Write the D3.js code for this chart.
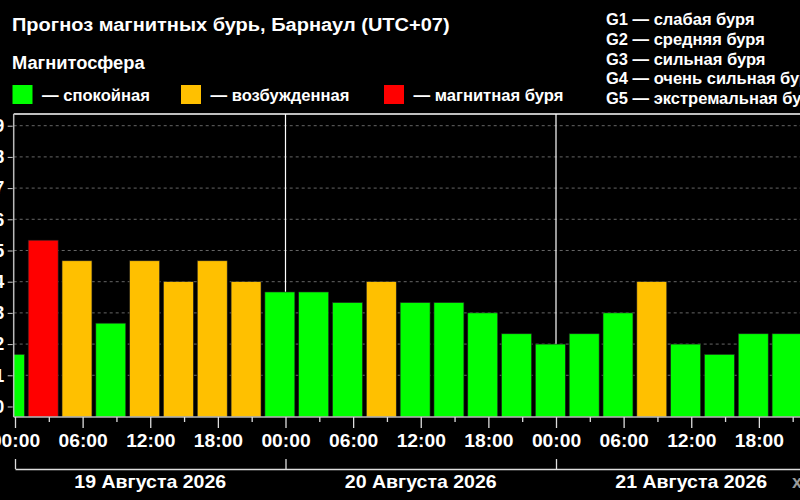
<!DOCTYPE html>
<html>
<head>
<meta charset="utf-8">
<script src="https://cdn.jsdelivr.net/npm/d3@7/dist/d3.min.js"></script>
<style>
  html, body { margin: 0; padding: 0; background: #000; overflow: hidden; }
  svg { display: block; }
  text { font-family: "Liberation Sans", Arial, sans-serif; font-weight: bold; fill: #fff; }
</style>
</head>
<body>
<script>
// ---- data ----
const title = "Прогноз магнитных бурь, Барнаул (UTC+07)";
const legendTitle = "Магнитосфера";
const legendLabels = ["— спокойная", "— возбужденная", "— магнитная буря"];
const legendColors = ["#00ff00", "#ffc000", "#ff0000"];
const gLabels = ["G1 — слабая буря", "G2 — средняя буря", "G3 — сильная буря", "G4 — очень сильная буря", "G5 — экстремальная буря"];
const dayLabels = ["19 Августа 2026", "20 Августа 2026", "21 Августа 2026"];
const dayStarts = ["2026-08-19T00:00", "2026-08-20T00:00", "2026-08-21T00:00", "2026-08-22T00:00"];
const barStarts = [
  "2026-08-18T22:00", "2026-08-19T01:00", "2026-08-19T04:00", "2026-08-19T07:00",
  "2026-08-19T10:00", "2026-08-19T13:00", "2026-08-19T16:00", "2026-08-19T19:00",
  "2026-08-19T22:00", "2026-08-20T01:00", "2026-08-20T04:00", "2026-08-20T07:00",
  "2026-08-20T10:00", "2026-08-20T13:00", "2026-08-20T16:00", "2026-08-20T19:00",
  "2026-08-20T22:00", "2026-08-21T01:00", "2026-08-21T04:00", "2026-08-21T07:00",
  "2026-08-21T10:00", "2026-08-21T13:00", "2026-08-21T16:00", "2026-08-21T19:00"
];
const kpValues = [
  1.67, 5.33, 4.67, 2.67, 4.67, 4.00, 4.67, 4.00,
  3.67, 3.67, 3.33, 4.00, 3.33, 3.33, 3.00, 2.33,
  2.00, 2.33, 3.00, 4.00, 2.00, 1.67, 2.33, 2.33
];
const yTicks = [0, 1, 2, 3, 4, 5, 6, 7, 8, 9];

// ---- layout ----
const W = 800, H = 500;
const plot = { left: 13.7, top: 114, right: 830, bottom: 417 };
const parse = d3.utcParse("%Y-%m-%dT%H:%M");
const days = dayStarts.map(parse);
const bars = barStarts.map((s, i) => ({ t: parse(s), v: kpValues[i] }));

const x = d3.scaleUtc().domain([days[0], days[3]]).range([15, 826.5]);
const y = d3.scaleLinear().domain([-0.337, 9.375]).range([plot.bottom, plot.top]);

const color = v => v >= 5 ? legendColors[2] : (v >= 4 ? legendColors[1] : legendColors[0]);

const svg = d3.select("body").append("svg").attr("width", W).attr("height", H);
svg.append("rect").attr("width", W).attr("height", H).attr("fill", "#000");

function stretchedText(g, tx, ty, size, sx, str, anchor) {
  return g.append("text")
    .attr("transform", `translate(${tx},${ty}) scale(${sx},1)`)
    .attr("font-size", size)
    .attr("text-anchor", anchor || "start")
    .text(str);
}

// title & legend
stretchedText(svg, 12, 30.5, 19, 1.053, title);
svg.append("text").attr("x", 12).attr("y", 69).attr("font-size", 18.3).text(legendTitle);
const legX = [12.5, 181, 384];
legendLabels.forEach((l, i) => {
  svg.append("rect").attr("x", legX[i]).attr("y", 85).attr("width", 20).attr("height", 19).attr("fill", legendColors[i]);
  svg.append("text").attr("x", legX[i] + 29.5).attr("y", 100.5).attr("font-size", 16.6).text(l);
});
gLabels.forEach((l, i) => {
  svg.append("text").attr("x", 606).attr("y", 25 + i * 19.8).attr("font-size", 16.5).text(l);
});

// clip
svg.append("clipPath").attr("id", "clip").append("rect")
  .attr("x", plot.left).attr("y", plot.top).attr("width", plot.right - plot.left).attr("height", plot.bottom - plot.top);

// grid lines
svg.append("g").selectAll("line").data(yTicks.filter(d => d > 0)).join("line")
  .attr("x1", plot.left).attr("x2", plot.right)
  .attr("y1", d => y(d)).attr("y2", d => y(d))
  .attr("stroke", "#666").attr("stroke-width", 1).attr("stroke-dasharray", "3,3");

// day separators
svg.append("g").selectAll("line").data(days.slice(1, 3)).join("line")
  .attr("x1", d => x(d)).attr("x2", d => x(d))
  .attr("y1", plot.top).attr("y2", plot.bottom)
  .attr("stroke", "#fff").attr("stroke-width", 1.2);

// bars
const step = x(d3.utcHour.offset(days[0], 3)) - x(days[0]);
const bw = step * 0.885;
svg.append("g").attr("clip-path", "url(#clip)").selectAll("rect").data(bars).join("rect")
  .attr("x", d => x(d.t) + (step - bw) / 2)
  .attr("width", bw)
  .attr("y", d => y(d.v))
  .attr("height", d => plot.bottom - y(d.v))
  .attr("fill", d => color(d.v))
  .attr("stroke", "#222").attr("stroke-width", 0.6);

// plot frame
svg.append("line").attr("x1", plot.left).attr("x2", plot.right).attr("y1", plot.top).attr("y2", plot.top)
  .attr("stroke", "#fff").attr("stroke-width", 1.5);
svg.append("line").attr("x1", plot.left).attr("x2", plot.left).attr("y1", plot.top).attr("y2", plot.bottom)
  .attr("stroke", "#bbb").attr("stroke-width", 1.5);
svg.append("line").attr("x1", plot.left).attr("x2", plot.right).attr("y1", plot.bottom).attr("y2", plot.bottom)
  .attr("stroke", "#bbb").attr("stroke-width", 1.5);

// y axis
const yAxis = d3.axisLeft(y).tickValues(yTicks).tickSize(5).tickPadding(4).tickFormat(d3.format("d"));
const yg = svg.append("g").attr("transform", `translate(${plot.left - 1},0)`).call(yAxis);
yg.select(".domain").remove();
yg.selectAll(".tick line").attr("stroke", "#ccc");
yg.selectAll(".tick text").attr("font-size", 18).attr("fill", "#fff")
  .attr("font-family", "Liberation Sans, Arial, sans-serif").attr("font-weight", "bold").attr("x", -8.5);

// x axis (hours)
const hourTicks = d3.utcHour.every(3).range(days[0], d3.utcHour.offset(days[3], 1));
const xAxis = d3.axisBottom(x).tickValues(hourTicks).tickSize(5).tickSizeOuter(0)
  .tickFormat(d => d.getUTCHours() % 6 === 0 ? d3.utcFormat("%H:%M")(d) : "");
const xg = svg.append("g").attr("transform", `translate(0,${plot.bottom})`).call(xAxis);
xg.select(".domain").remove();
xg.selectAll(".tick line").attr("stroke", "#ddd").attr("stroke-width", 1.3)
  .attr("y2", d => d.getUTCHours() % 6 === 0 ? 11 : 5);
xg.selectAll(".tick text").attr("font-size", 18).attr("fill", "#fff")
  .attr("font-family", "Liberation Sans, Arial, sans-serif").attr("font-weight", "bold")
  .attr("y", 30.5).attr("dy", 0).attr("transform", "scale(1.07,1)");

// date bracket axis
const dg = svg.append("g").attr("transform", "translate(0,469)")
  .call(d3.axisTop(x).tickValues(days).tickSize(10).tickSizeOuter(0).tickFormat(""));
dg.select(".domain").attr("stroke", "#ddd").attr("stroke-width", 1.3);
dg.selectAll(".tick line").attr("stroke", "#ddd").attr("stroke-width", 1.3);

const dl = svg.append("g");
dayLabels.forEach((d, i) => {
  stretchedText(dl, (x(days[i]) + x(days[i + 1])) / 2, 487.5, 18, 1.085, d, "middle");
});

svg.append("text").attr("x", 792).attr("y", 487.5).attr("font-size", 18).style("fill", "#999").text("х");
</script>
</body>
</html>
